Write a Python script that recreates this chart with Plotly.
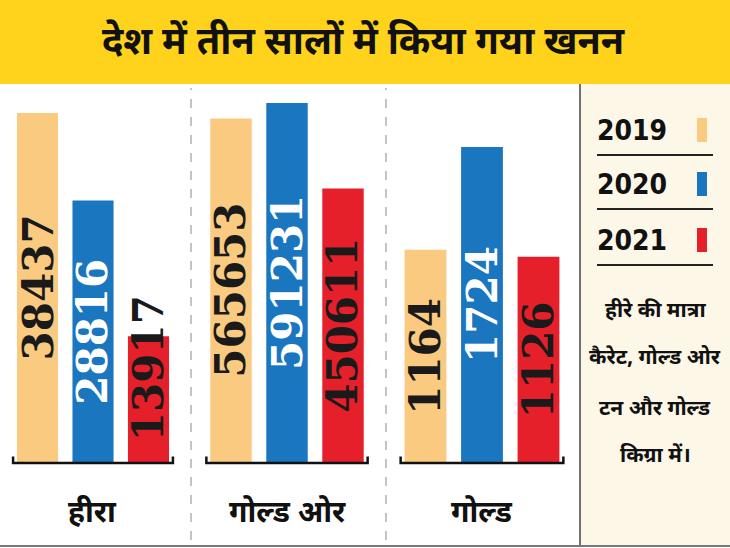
import plotly.graph_objects as go
from plotly.subplots import make_subplots

# ── Data ───────────────────────────────────────────────────────────────────────
TITLE = "देश में तीन सालों में किया गया खनन"
YEARS = ["2019", "2020", "2021"]
MINERALS = ["हीरा", "गोल्ड ओर", "गोल्ड"]
HEERA = [38437, 28816, 13917]
GOLD_ORE = [565653, 591231, 450611]
GOLD = [1164, 1724, 1126]
NOTE_LINES = ["हीरे की मात्रा", "कैरेट, गोल्ड ओर", "टन और गोल्ड", "किग्रा में।"]

# ── Theme ──────────────────────────────────────────────────────────────────────
YELLOW = "#FFD31C"
CREAM = "#FDF7E8"
COLORS = ["#F9CA7F", "#1B76C0", "#E6202A"]
LABEL_COLORS = ["#1a1a1a", "#ffffff", "#1a1a1a"]
DEV = "Noto Sans Devanagari, Noto Sans, sans-serif"
W, H = 730, 548


def px_x(x):
    return x / W


def px_y(y):
    return 1 - y / H


def note(text, x, y, size, family=DEV, xanchor="center"):
    fig.add_annotation(text=text, xref="paper", yref="paper", x=px_x(x), y=px_y(y),
                       xanchor=xanchor, yanchor="middle", showarrow=False,
                       font=dict(family=family, size=size, color="#111"))


series = [HEERA, GOLD_ORE, GOLD]
y_tops = [40414, 604370, 2008]            # per-panel axis ceiling
x_domains = [(9.75, 176.25), (203, 371), (397.25, 566.75)]
label_shift = [[0, 0, 31], [0, 0, 0], [0, 0, 0]]   # 13917 sits above centre

fig = make_subplots(rows=1, cols=3)

for p, values in enumerate(series):
    fig.add_trace(go.Bar(
        x=YEARS, y=values, marker_color=COLORS, marker_line_width=0,
        showlegend=False, hoverinfo="skip",
    ), row=1, col=p + 1)
    xa = "xaxis" if p == 0 else f"xaxis{p + 1}"
    ya = "yaxis" if p == 0 else f"yaxis{p + 1}"
    x0, x1 = x_domains[p]
    fig.layout[xa].update(
        type="category", domain=[px_x(x0), px_x(x1)], range=[-0.5, 2.5],
        showgrid=False, zeroline=False, showticklabels=False, showline=False,
    )
    fig.layout[ya].update(
        domain=[px_y(463), px_y(95)], range=[0, y_tops[p]],
        visible=False,
    )
    xref = "x" if p == 0 else f"x{p + 1}"
    yref = "y" if p == 0 else f"y{p + 1}"
    # value labels, rotated, centred in each bar
    for i, v in enumerate(values):
        fig.add_annotation(
            x=i, y=v / 2, xref=xref, yref=yref, text=f"<b>{v}</b>",
            textangle=-90, showarrow=False, yshift=label_shift[p][i],
            xanchor="center", yanchor="middle",
            font=dict(family="DejaVu Serif", size=42, color=LABEL_COLORS[i]),
        )
    # baseline bracket
    fig.add_shape(type="path", xref=f"{xref} domain", yref=f"{yref} domain",
                  path="M 0.02,0.018 L 0.02,0 L 0.98,0 L 0.98,0.018",
                  line=dict(color="#111", width=2.5))
    # mineral name under the panel
    fig.add_annotation(text=f"<b>{MINERALS[p]}</b>", xref=f"{xref} domain", yref="paper",
                       x=0.5, y=px_y(514), xanchor="center", yanchor="middle",
                       showarrow=False, font=dict(family=DEV, size=30, color="#111"))

# ── Background panels and separators ──────────────────────────────────────────
fig.add_shape(type="rect", xref="paper", yref="paper", x0=0, x1=1,
              y0=px_y(84), y1=1, fillcolor=YELLOW, line_width=0, layer="below")
fig.add_shape(type="rect", xref="paper", yref="paper", x0=px_x(580), x1=1,
              y0=px_y(546), y1=px_y(84), fillcolor=CREAM, line_width=0, layer="below")
fig.add_shape(type="line", xref="paper", yref="paper", x0=px_x(580), x1=px_x(580),
              y0=px_y(546), y1=px_y(84), line=dict(color="#444", width=1.5))
for xs in (191, 386):
    fig.add_shape(type="line", xref="paper", yref="paper", x0=px_x(xs), x1=px_x(xs),
                  y0=px_y(540), y1=px_y(88), line=dict(color="#888", width=1, dash="dash"))
fig.add_shape(type="line", xref="paper", yref="paper", x0=0, x1=1,
              y0=px_y(546), y1=px_y(546), line=dict(color="#777", width=2))

note(f"<b>{TITLE}</b>", 363, 44, 38)

# ── Legend panel ───────────────────────────────────────────────────────────────
legend_y = [130, 184, 240]
for i, yr in enumerate(YEARS):
    note(f"<b>{yr}</b>", 595, legend_y[i], 28,
         family="DejaVu Sans Condensed, DejaVu Sans", xanchor="left")
    fig.add_shape(type="rect", xref="paper", yref="paper",
                  x0=px_x(697), x1=px_x(707),
                  y0=px_y(legend_y[i] + 12), y1=px_y(legend_y[i] - 12),
                  fillcolor=COLORS[i], line_width=0)
    fig.add_shape(type="line", xref="paper", yref="paper",
                  x0=px_x(597), x1=px_x(713),
                  y0=px_y(legend_y[i] + 25), y1=px_y(legend_y[i] + 25),
                  line=dict(color="#222", width=2))

note_y = [312, 359, 410, 457]
for txt, yy in zip(NOTE_LINES, note_y):
    note(f"<b>{txt}</b>", 655, yy, 21)

fig.update_layout(
    width=W, height=H, bargap=0.26,
    paper_bgcolor="white", plot_bgcolor="rgba(0,0,0,0)",
    margin=dict(l=0, r=0, t=0, b=0),
)

fig.write_html("out.html", config={"displayModeBar": False},
               post_script="document.body.style.margin='0';")
